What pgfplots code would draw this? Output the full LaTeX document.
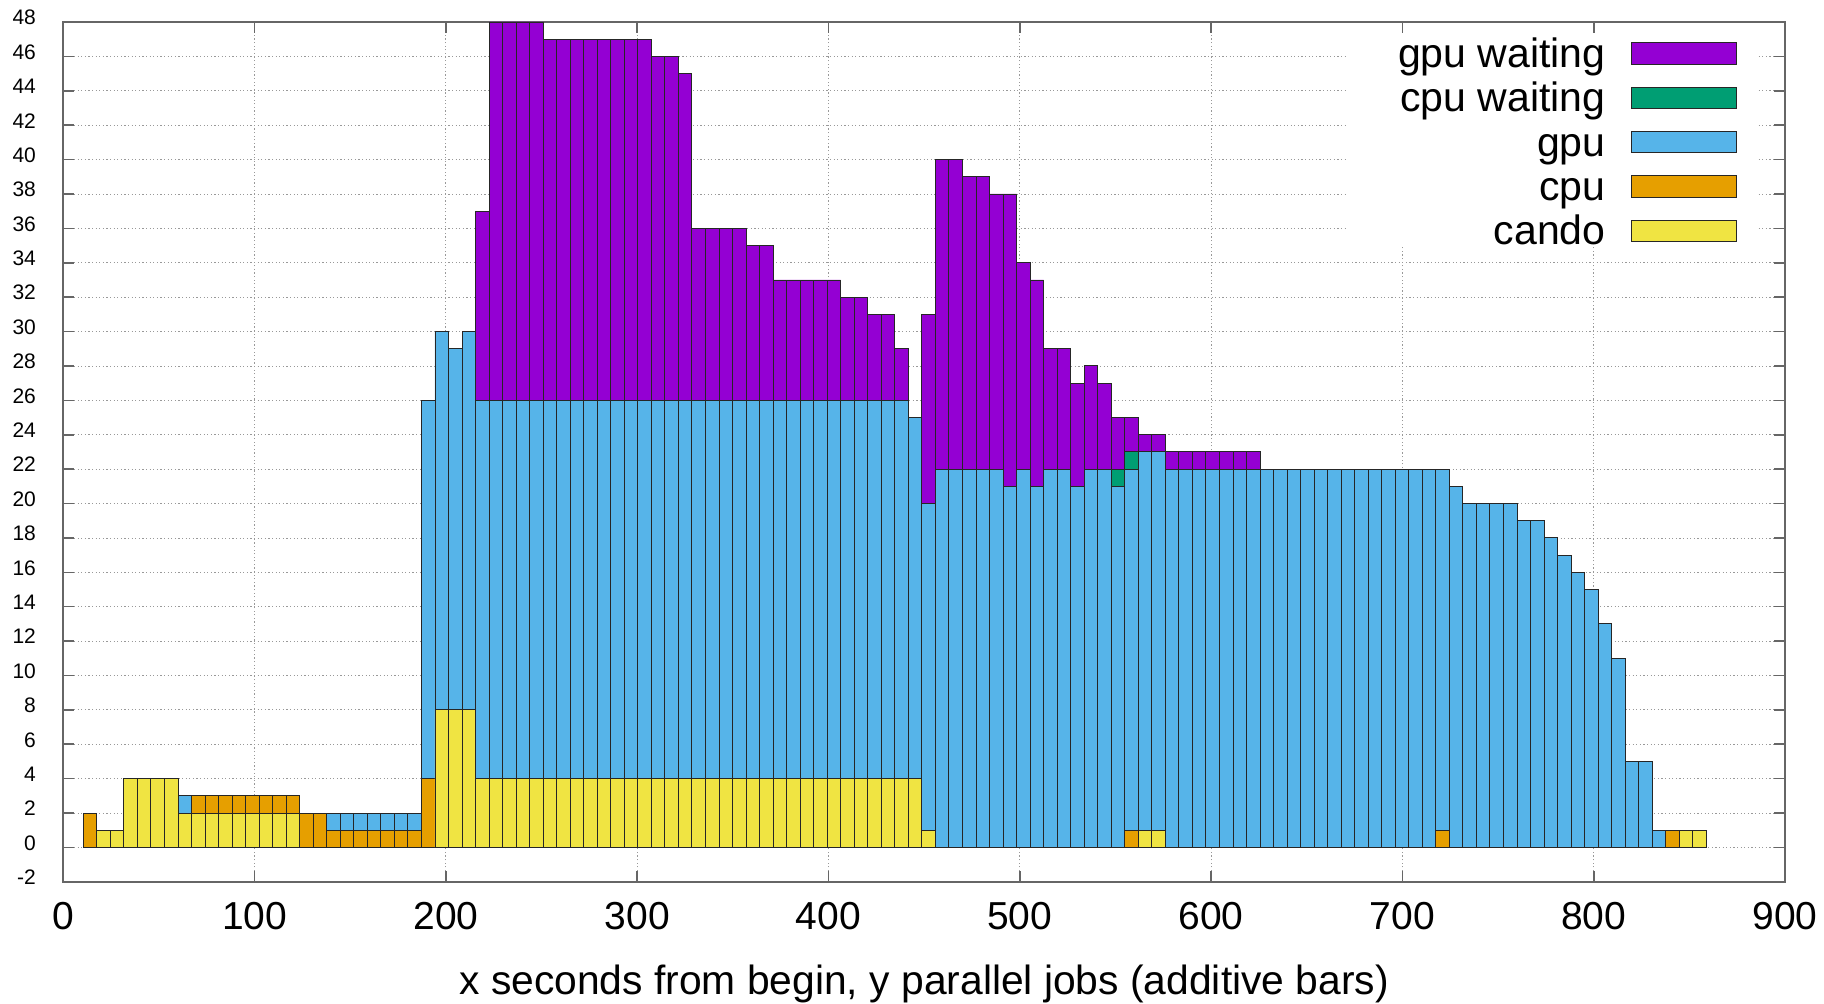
\documentclass[border=0pt]{standalone}
\usepackage{pgfplots}
\pgfplotsset{compat=1.18}
\usepackage{pgfplotstable}
\usepackage{fontspec}
\setmainfont{Liberation Sans}

\definecolor{cgpuw}{HTML}{9400D3}
\definecolor{ccpuw}{HTML}{009E73}
\definecolor{cgpu}{HTML}{56B4E9}
\definecolor{ccpu}{HTML}{E69F00}
\definecolor{ccando}{HTML}{F0E442}

\pgfplotstableread{
x cando cpu gpu cpuw gpuw
14.00 0 2 0 0 0
21.07 1 0 0 0 0
28.14 1 0 0 0 0
35.21 4 0 0 0 0
42.28 4 0 0 0 0
49.35 4 0 0 0 0
56.42 4 0 0 0 0
63.49 2 0 1 0 0
70.56 2 1 0 0 0
77.63 2 1 0 0 0
84.70 2 1 0 0 0
91.77 2 1 0 0 0
98.84 2 1 0 0 0
105.91 2 1 0 0 0
112.98 2 1 0 0 0
120.05 2 1 0 0 0
127.12 0 2 0 0 0
134.19 0 2 0 0 0
141.26 0 1 1 0 0
148.33 0 1 1 0 0
155.40 0 1 1 0 0
162.47 0 1 1 0 0
169.54 0 1 1 0 0
176.61 0 1 1 0 0
183.68 0 1 1 0 0
190.75 0 4 22 0 0
197.82 8 0 22 0 0
204.89 8 0 21 0 0
211.96 8 0 22 0 0
219.03 4 0 22 0 11
226.10 4 0 22 0 22
233.17 4 0 22 0 22
240.24 4 0 22 0 22
247.31 4 0 22 0 22
254.38 4 0 22 0 21
261.45 4 0 22 0 21
268.52 4 0 22 0 21
275.59 4 0 22 0 21
282.66 4 0 22 0 21
289.73 4 0 22 0 21
296.80 4 0 22 0 21
303.87 4 0 22 0 21
310.94 4 0 22 0 20
318.01 4 0 22 0 20
325.08 4 0 22 0 19
332.15 4 0 22 0 10
339.22 4 0 22 0 10
346.29 4 0 22 0 10
353.36 4 0 22 0 10
360.43 4 0 22 0 9
367.50 4 0 22 0 9
374.57 4 0 22 0 7
381.64 4 0 22 0 7
388.71 4 0 22 0 7
395.78 4 0 22 0 7
402.85 4 0 22 0 7
409.92 4 0 22 0 6
416.99 4 0 22 0 6
424.06 4 0 22 0 5
431.13 4 0 22 0 5
438.20 4 0 22 0 3
445.27 4 0 21 0 0
452.34 1 0 19 0 11
459.41 0 0 22 0 18
466.48 0 0 22 0 18
473.55 0 0 22 0 17
480.62 0 0 22 0 17
487.69 0 0 22 0 16
494.76 0 0 21 0 17
501.83 0 0 22 0 12
508.90 0 0 21 0 12
515.97 0 0 22 0 7
523.04 0 0 22 0 7
530.11 0 0 21 0 6
537.18 0 0 22 0 6
544.25 0 0 22 0 5
551.32 0 0 21 1 3
558.39 0 1 21 1 2
565.46 1 0 22 0 1
572.53 1 0 22 0 1
579.60 0 0 22 0 1
586.67 0 0 22 0 1
593.74 0 0 22 0 1
600.81 0 0 22 0 1
607.88 0 0 22 0 1
614.95 0 0 22 0 1
622.02 0 0 22 0 1
629.09 0 0 22 0 0
636.16 0 0 22 0 0
643.23 0 0 22 0 0
650.30 0 0 22 0 0
657.37 0 0 22 0 0
664.44 0 0 22 0 0
671.51 0 0 22 0 0
678.58 0 0 22 0 0
685.65 0 0 22 0 0
692.72 0 0 22 0 0
699.79 0 0 22 0 0
706.86 0 0 22 0 0
713.93 0 0 22 0 0
721.00 0 1 21 0 0
728.07 0 0 21 0 0
735.14 0 0 20 0 0
742.21 0 0 20 0 0
749.28 0 0 20 0 0
756.35 0 0 20 0 0
763.42 0 0 19 0 0
770.49 0 0 19 0 0
777.56 0 0 18 0 0
784.63 0 0 17 0 0
791.70 0 0 16 0 0
798.77 0 0 15 0 0
805.84 0 0 13 0 0
812.91 0 0 11 0 0
819.98 0 0 5 0 0
827.05 0 0 5 0 0
834.12 0 0 1 0 0
841.19 0 1 0 0 0
848.26 1 0 0 0 0
855.33 1 0 0 0 0
}\jobs

\pgfplotsset{
  myleg/.style={legend image code/.code={\draw[##1, line width=0.5pt] (0pt,-5.35pt) rectangle (52.5pt,5.35pt);}},
  mybar/.style={fill=#1, draw=black!85, line width=0.45pt, myleg},
}

\begin{document}
\begin{tikzpicture}
\begin{axis}[
  scale only axis, width=861pt, height=430pt,
  xmin=0, xmax=900, ymin=-2, ymax=48,
  xtick={0,100,...,900},
  xticklabels={0,100,200,300,400,500,600,700,800,900},
  ytick={-2,0,...,48},
  yticklabels={-2,0,2,4,6,8,10,12,14,16,18,20,22,24,26,28,30,32,34,36,38,40,42,44,46,48},
  ybar stacked, bar width=7.07,
  grid=major,
  grid style={black!40, dash pattern=on 0.6pt off 1.2pt, line width=0.4pt},
  axis line style={black!60, line width=0.8pt},
  tick style={black!60, line width=0.8pt},
  major tick length=5.5pt,
  tick align=inside,
  xticklabel style={font=\fontsize{19.5}{20}\selectfont, inner sep=0pt, anchor=north, yshift=-10pt},
  yticklabel style={font=\fontsize{10.5}{11}\selectfont, inner sep=0pt, anchor=east, xshift=-13.5pt, yshift=2.25pt},
  xlabel={x seconds from begin, y parallel jobs (additive bars)},
  xlabel style={font=\fontsize{20.4}{21}\selectfont, at={(axis description cs:0.5,0)}, anchor=base, yshift=-56.5pt, inner sep=0pt},
  reverse legend,
  legend plot pos=right,
  legend style={at={(rel axis cs:1,1)}, anchor=north east, xshift=-23.6pt, yshift=-5pt,
    draw=none, fill=none, inner sep=0pt, column sep=11pt, row sep=1.2pt,
    font=\fontsize{20.5}{20.5}\selectfont,
    cells={anchor=east, text height=15.5pt, text depth=6.7pt, inner sep=0pt}},
]
\addplot[mybar=ccando] table[x=x, y=cando] {\jobs};
\addlegendentry{cando}
\addplot[mybar=ccpu] table[x=x, y=cpu] {\jobs};
\addlegendentry{cpu}
\addplot[mybar=cgpu] table[x=x, y=gpu] {\jobs};
\addlegendentry{gpu}
\addplot[mybar=ccpuw] table[x=x, y=cpuw] {\jobs};
\addlegendentry{cpu waiting}
\addplot[mybar=cgpuw] table[x=x, y=gpuw] {\jobs};
\addlegendentry{gpu waiting}
\fill[white] (rel axis cs:0.7456,0.7407) rectangle (rel axis cs:0.9837,0.986);
\end{axis}
\path ([shift={(-31.65pt,-61pt)}]current axis.south west) rectangle ([shift={(19.5pt,11pt)}]current axis.north east);
\end{tikzpicture}
\end{document}
